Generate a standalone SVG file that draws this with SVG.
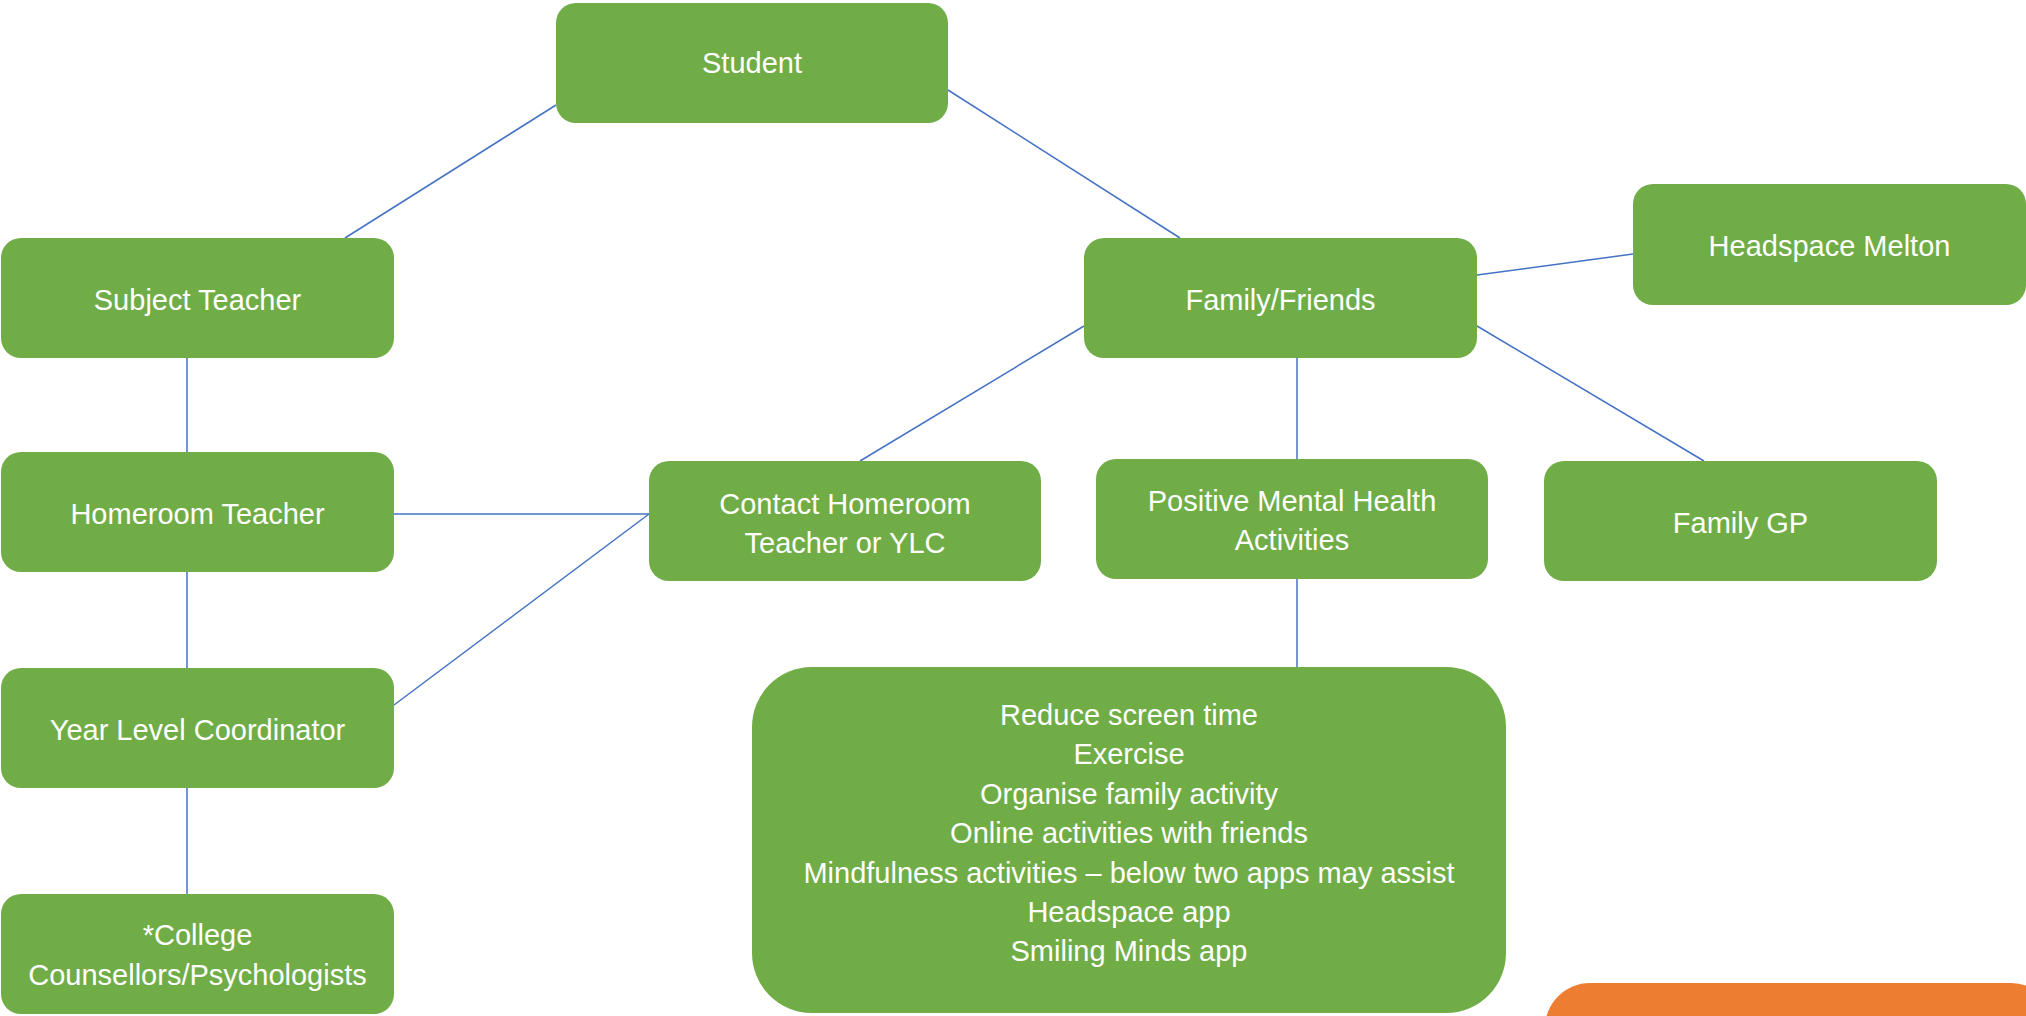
<svg xmlns="http://www.w3.org/2000/svg" width="2026" height="1016" viewBox="0 0 2026 1016">
<style>
.n{fill:#70AD47}
.t{font-family:"Liberation Sans",Arial,sans-serif;font-size:29px;fill:#FFFFFF;text-anchor:middle}
.c{stroke:#4472C4;stroke-width:1.5;fill:none}
</style>
<rect width="2026" height="1016" fill="#FFFFFF"/>
<g id="connectors">
<line class="c" x1="556" y1="105" x2="345" y2="238"/>
<line class="c" x1="948" y1="90" x2="1180" y2="238"/>
<line class="c" x1="187" y1="358" x2="187" y2="452"/>
<line class="c" x1="394" y1="514" x2="649" y2="514"/>
<line class="c" x1="187" y1="572" x2="187" y2="668"/>
<line class="c" x1="394" y1="705" x2="649" y2="514"/>
<line class="c" x1="187" y1="788" x2="187" y2="894"/>
<line class="c" x1="1084" y1="326" x2="860" y2="461"/>
<line class="c" x1="1297" y1="358" x2="1297" y2="459"/>
<line class="c" x1="1477" y1="275" x2="1633" y2="254"/>
<line class="c" x1="1477" y1="326" x2="1704" y2="461"/>
<line class="c" x1="1297" y1="579" x2="1297" y2="667"/>
</g>
<g id="student"><rect class="n" x="556" y="3" width="392" height="120" rx="20"/><text class="t" x="752" y="73">Student</text></g>
<g id="subject-teacher"><rect class="n" x="1" y="238" width="393" height="120" rx="20"/><text class="t" x="197.5" y="310">Subject Teacher</text></g>
<g id="family-friends"><rect class="n" x="1084" y="238" width="393" height="120" rx="20"/><text class="t" x="1280.5" y="310">Family/Friends</text></g>
<g id="headspace-melton"><rect class="n" x="1633" y="184" width="393" height="121" rx="20"/><text class="t" x="1829.5" y="256">Headspace Melton</text></g>
<g id="homeroom-teacher"><rect class="n" x="1" y="452" width="393" height="120" rx="20"/><text class="t" x="197.5" y="524">Homeroom Teacher</text></g>
<g id="contact"><rect class="n" x="649" y="461" width="392" height="120" rx="20"/><text class="t" x="845" y="514">Contact Homeroom</text><text class="t" x="845" y="553">Teacher or YLC</text></g>
<g id="positive"><rect class="n" x="1096" y="459" width="392" height="120" rx="20"/><text class="t" x="1292" y="511">Positive Mental Health</text><text class="t" x="1292" y="550">Activities</text></g>
<g id="family-gp"><rect class="n" x="1544" y="461" width="393" height="120" rx="20"/><text class="t" x="1740.5" y="533">Family GP</text></g>
<g id="year-level"><rect class="n" x="1" y="668" width="393" height="120" rx="20"/><text class="t" x="197.5" y="740">Year Level Coordinator</text></g>
<g id="college"><rect class="n" x="1" y="894" width="393" height="120" rx="20"/><text class="t" x="197.5" y="945">*College</text><text class="t" x="197.5" y="985">Counsellors/Psychologists</text></g>
<g id="activities"><rect class="n" x="752" y="667" width="754" height="346" rx="60"/>
<text class="t" x="1129" y="725">Reduce screen time</text>
<text class="t" x="1129" y="764.4">Exercise</text>
<text class="t" x="1129" y="803.8">Organise family activity</text>
<text class="t" x="1129" y="843.2">Online activities with friends</text>
<text class="t" x="1129" y="882.6">Mindfulness activities – below two apps may assist</text>
<text class="t" x="1129" y="922">Headspace app</text>
<text class="t" x="1129" y="961.4">Smiling Minds app</text>
</g>
<g id="orange"><rect x="1545" y="983" width="511" height="120" rx="45" fill="#ED7D31"/></g>
</svg>
